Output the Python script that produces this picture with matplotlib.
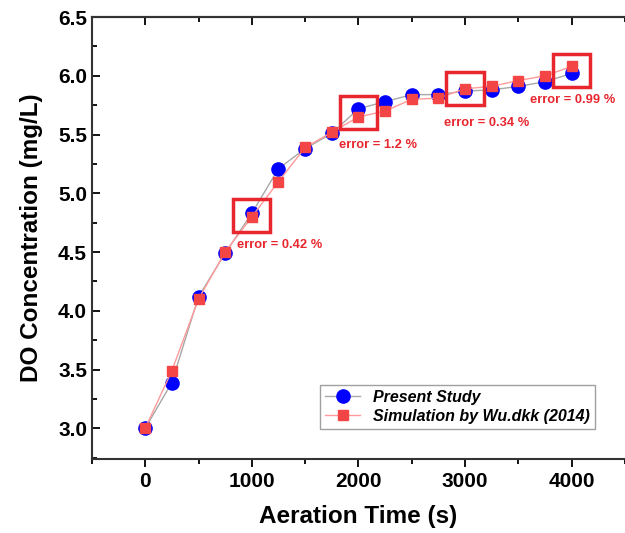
import numpy as np
import matplotlib.pyplot as plt
from matplotlib.patches import Rectangle

plt.rcParams['font.family'] = ['Liberation Sans', 'DejaVu Sans']

# aeration time (s)
time_s = [0, 250, 500, 750, 1000, 1250, 1500, 1750, 2000, 2250, 2500,
          2750, 3000, 3250, 3500, 3750, 4000]
# DO concentration (mg/L)
present = [3.00, 3.39, 4.12, 4.49, 4.83, 5.21, 5.38, 5.51, 5.72, 5.78, 5.84,
           5.84, 5.87, 5.88, 5.91, 5.95, 6.02]
wu_2014 = [3.00, 3.49, 4.10, 4.50, 4.80, 5.10, 5.39, 5.52, 5.65, 5.70, 5.80,
           5.81, 5.89, 5.91, 5.96, 6.00, 6.08]

# highlighted points and their error notes
err_x = [1000, 2000, 3000, 4000]
err_y = [4.815, 5.685, 5.895, 6.045]
err_text = ['error = 0.42 %', 'error = 1.2 %', 'error = 0.34 %', 'error = 0.99 %']
text_x = [862, 1817, 2800, 3607]
text_y = [4.56, 5.41, 5.60, 5.79]

red = '#e8262e'

fig = plt.figure(figsize=(6.25, 5.33), dpi=100)
ax = fig.add_axes([0.147, 0.139, 0.853, 0.829])

ax.plot(time_s, present, color='#a8a8a8', lw=1, marker='o', ms=9.5,
        mfc='#0000ff', mec='#0000ff', label='Present Study', zorder=3)
ax.plot(time_s, wu_2014, color='#ff9a9a', lw=1, marker='s', ms=7.5,
        mfc='#f34545', mec='#f34545', label='Simulation by Wu.dkk (2014)', zorder=4)

for x, y in zip(err_x, err_y):
    ax.add_patch(Rectangle((x - 175, y - 0.14), 350, 0.28, fill=False,
                           ec=red, lw=2.5, zorder=5))
for x, y, t in zip(text_x, text_y, err_text):
    ax.text(x, y, t, color=red, fontsize=9.3, fontweight='bold',
            ha='left', va='center')

ax.set_xlim(-500, 4500)
ax.set_ylim(2.74, 6.5)
ax.set_xticks([0, 1000, 2000, 3000, 4000])
ax.set_xticks(np.arange(-500, 4501, 500), minor=True)
ax.set_yticks(np.arange(3.0, 6.51, 0.5))
ax.set_yticks(np.arange(2.75, 6.51, 0.25), minor=True)
ax.yaxis.set_major_formatter(plt.FormatStrFormatter('%.1f'))

ax.spines['right'].set_visible(False)
for s in ['left', 'bottom', 'top']:
    ax.spines[s].set_linewidth(1.5)
    ax.spines[s].set_color('#333333')
ax.tick_params(axis='y', which='both', direction='in', left=True, width=1.3)
ax.tick_params(axis='x', which='both', direction='out', top=False, width=1.3)
ax.tick_params(which='major', length=6)
ax.tick_params(which='minor', length=3.5)
ax.tick_params(labelsize=15)
for lab in ax.get_xticklabels() + ax.get_yticklabels():
    lab.set_fontweight('bold')

# top ticks pointing inward
sec = ax.secondary_xaxis('top')
sec.set_xticks([0, 1000, 2000, 3000, 4000])
sec.set_xticks(np.arange(-500, 4501, 500), minor=True)
sec.tick_params(which='both', direction='in', labeltop=False, width=1.3)
sec.tick_params(which='major', length=6)
sec.tick_params(which='minor', length=3.5)
sec.spines['top'].set_linewidth(1.5)

ax.set_xlabel('Aeration Time (s)', fontsize=17.5, fontweight='bold', labelpad=10)
ax.set_ylabel('DO Concentration (mg/L)', fontsize=17.5, fontweight='bold', labelpad=11)

leg = ax.legend(loc='lower right', bbox_to_anchor=(0.958, 0.05),
                prop={'weight': 'bold', 'style': 'italic', 'size': 11.5},
                fancybox=False, edgecolor='#888888', borderpad=0.3,
                handlelength=2.2, labelspacing=0.25)
leg.get_frame().set_linewidth(1.0)

fig.savefig('out.png', dpi=100)
